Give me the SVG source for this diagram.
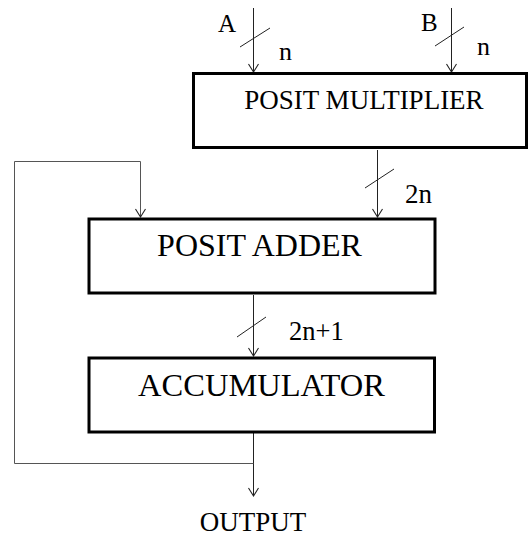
<svg xmlns="http://www.w3.org/2000/svg" width="529" height="536" viewBox="0 0 529 536">
<defs>
<style>
.box{fill:#fff;stroke:#000;stroke-width:3}
.t{font-family:"Liberation Serif","Times New Roman",serif;fill:#000}
.w{stroke:#222;stroke-width:1;fill:none}
.fb{stroke:#555;stroke-width:1;fill:none}
</style>
<marker id="ah" viewBox="-10 -7 12 14" markerWidth="12" markerHeight="14" refX="0" refY="0" orient="auto" markerUnits="userSpaceOnUse">
<path d="M-8,-5 L0,0 L-8,5" fill="none" stroke="#222" stroke-width="1.1"/>
</marker>
</defs>
<rect width="529" height="536" fill="#fff"/>
<g id="connectors">
<line class="w" x1="253.5" y1="8" x2="253.5" y2="72" marker-end="url(#ah)"/>
<line class="w" x1="240" y1="47" x2="270" y2="28"/>
<line class="w" x1="451.5" y1="8" x2="451.5" y2="72" marker-end="url(#ah)"/>
<line class="w" x1="435" y1="46" x2="464" y2="27"/>
<line class="w" x1="377.5" y1="150" x2="377.5" y2="217" marker-end="url(#ah)"/>
<line class="w" x1="365" y1="188" x2="394" y2="169"/>
<line class="w" x1="253.5" y1="295" x2="253.5" y2="356" marker-end="url(#ah)"/>
<line class="w" x1="237" y1="337" x2="266" y2="317"/>
<line class="w" x1="253.5" y1="433" x2="253.5" y2="496" marker-end="url(#ah)"/>
<polyline class="fb" points="253.5,463.5 14.5,463.5 14.5,161.5 140.5,161.5 140.5,217" marker-end="url(#ah)"/>
</g>
<g id="multiplier">
<rect class="box" x="193.5" y="73.5" width="333" height="74"/>
<text class="t" x="364" y="109" font-size="27" text-anchor="middle">POSIT MULTIPLIER</text>
</g>
<g id="adder">
<rect class="box" x="89" y="219" width="346" height="74"/>
<text class="t" x="259.5" y="256" font-size="32" text-anchor="middle">POSIT ADDER</text>
</g>
<g id="accumulator">
<rect class="box" x="89" y="358" width="345.5" height="74"/>
<text class="t" x="261.5" y="396" font-size="32.5" text-anchor="middle">ACCUMULATOR</text>
</g>
<g id="labels">
<text class="t" x="218" y="32" font-size="25">A</text>
<text class="t" x="279" y="60" font-size="26">n</text>
<text class="t" x="421" y="31" font-size="25">B</text>
<text class="t" x="477" y="55" font-size="26">n</text>
<text class="t" x="405" y="203" font-size="27">2n</text>
<text class="t" x="289" y="340" font-size="26.5">2n+1</text>
<text class="t" x="253" y="531" font-size="27" text-anchor="middle">OUTPUT</text>
</g>
</svg>
